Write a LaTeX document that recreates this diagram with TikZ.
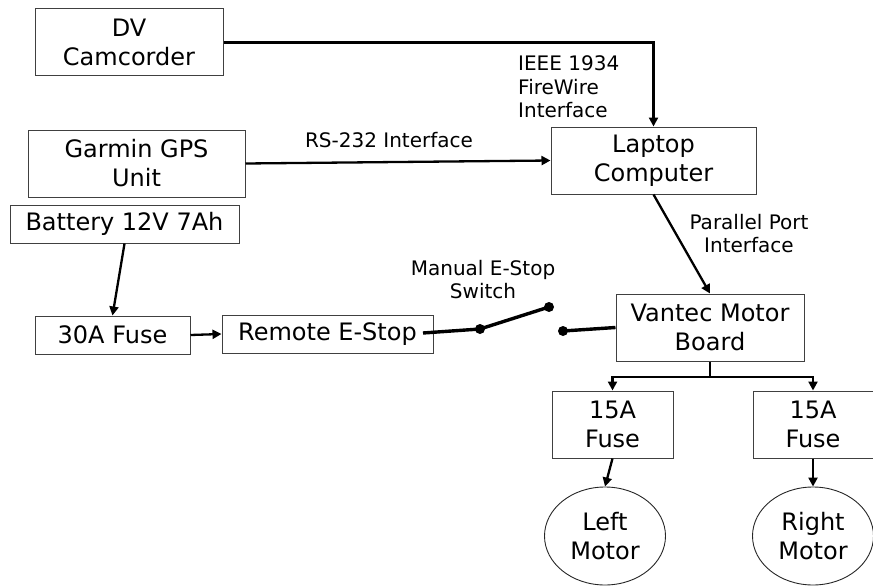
\documentclass[tikz,border=0pt]{standalone}
\usepackage{fontspec}
\setmainfont{DejaVu Sans}
\usetikzlibrary{arrows.meta,shapes.geometric}
\begin{document}
\begin{tikzpicture}[x=1pt,y=-1pt,
  box/.style={draw=black!75,line width=1pt,inner sep=0pt,align=center,
    font=\fontsize{24}{29}\selectfont},
  motor/.style={ellipse,draw=black!85,line width=0.9pt,inner sep=0pt,align=center,
    minimum width=121pt,minimum height=98pt,font=\fontsize{24}{29}\selectfont},
  lbl/.style={inner sep=0pt,font=\fontsize{20}{23.5}\selectfont},
  conn/.style={line width=2.3pt,-{Triangle[length=9pt,width=9pt]}},
  wire/.style={line width=2.3pt},
  sw/.style={line width=3.4pt},
  dot/.style={circle,fill=black,inner sep=0pt,minimum size=10pt}]
\useasboundingbox (0,0) rectangle (873,586);
% boxes
\node[box,minimum width=188pt,minimum height=67pt] (cam) at (129,42.5) {DV\\Camcorder};
\node[box,minimum width=217pt,minimum height=67pt] (gps) at (136.5,163.5) {Garmin GPS\\Unit};
\node[box,minimum width=229pt,minimum height=38pt] (bat) at (124.5,224) {Battery 12V 7Ah};
\node[box,minimum width=155pt,minimum height=38pt] (fuse30) at (112.5,335) {30A Fuse};
\node[box,minimum width=211pt,minimum height=38pt] (remote) at (327.5,334) {Remote E-Stop};
\node[box,minimum width=205pt,minimum height=67pt] (laptop) at (653.5,160.5) {Laptop\\Computer};
\node[box,minimum width=188pt,minimum height=67pt] (vantec) at (710,327.5) {Vantec Motor\\Board};
\node[box,minimum width=121pt,minimum height=67pt] (fuseL) at (612.5,424.5) {15A\\Fuse};
\node[box,minimum width=120pt,minimum height=67pt] (fuseR) at (813,424.5) {15A\\Fuse};
\node[motor] (motorL) at (605,536) {Left\\Motor};
\node[motor] (motorR) at (813,536) {Right\\Motor};
% labels
\node[lbl,anchor=west,align=left] (ieee) at (518,87) {IEEE 1934\\FireWire\\Interface};
\node[lbl] (rs) at (389,140) {RS-232 Interface};
\node[lbl,align=center] (pp) at (749,233.5) {Parallel Port\\Interface};
\node[lbl,align=center] (man) at (483,279.5) {Manual E-Stop\\Switch};
% connectors
\draw[conn] (cam.east) -| (laptop.north);
\draw[conn] (gps.east) -- (laptop.west);
\draw[conn] (laptop.south) -- (vantec.north);
\draw[conn] (bat.south) -- (fuse30.north);
\draw[conn] (fuse30.east) -- (remote.west);
\coordinate (vb) at (710,377);
\draw[wire] (vantec.south) -- (vb);
\draw[conn] (vb) -| (fuseL.north);
\draw[conn] (vb) -| (fuseR.north);
\draw[conn] (fuseL.south) -- (motorL.north);
\draw[conn] (fuseR.south) -- (motorR.north);
% switch
\coordinate (s0) at (423,333);
\node[dot] (sw1) at (480,329) {};
\node[dot] (sw2) at (549,307) {};
\node[dot] (sw3) at (563,331) {};
\draw[sw] (s0) -- (sw1.center) -- (sw2.center);
\draw[sw] (sw3.center) -- (vantec.west);
\end{tikzpicture}
\end{document}
